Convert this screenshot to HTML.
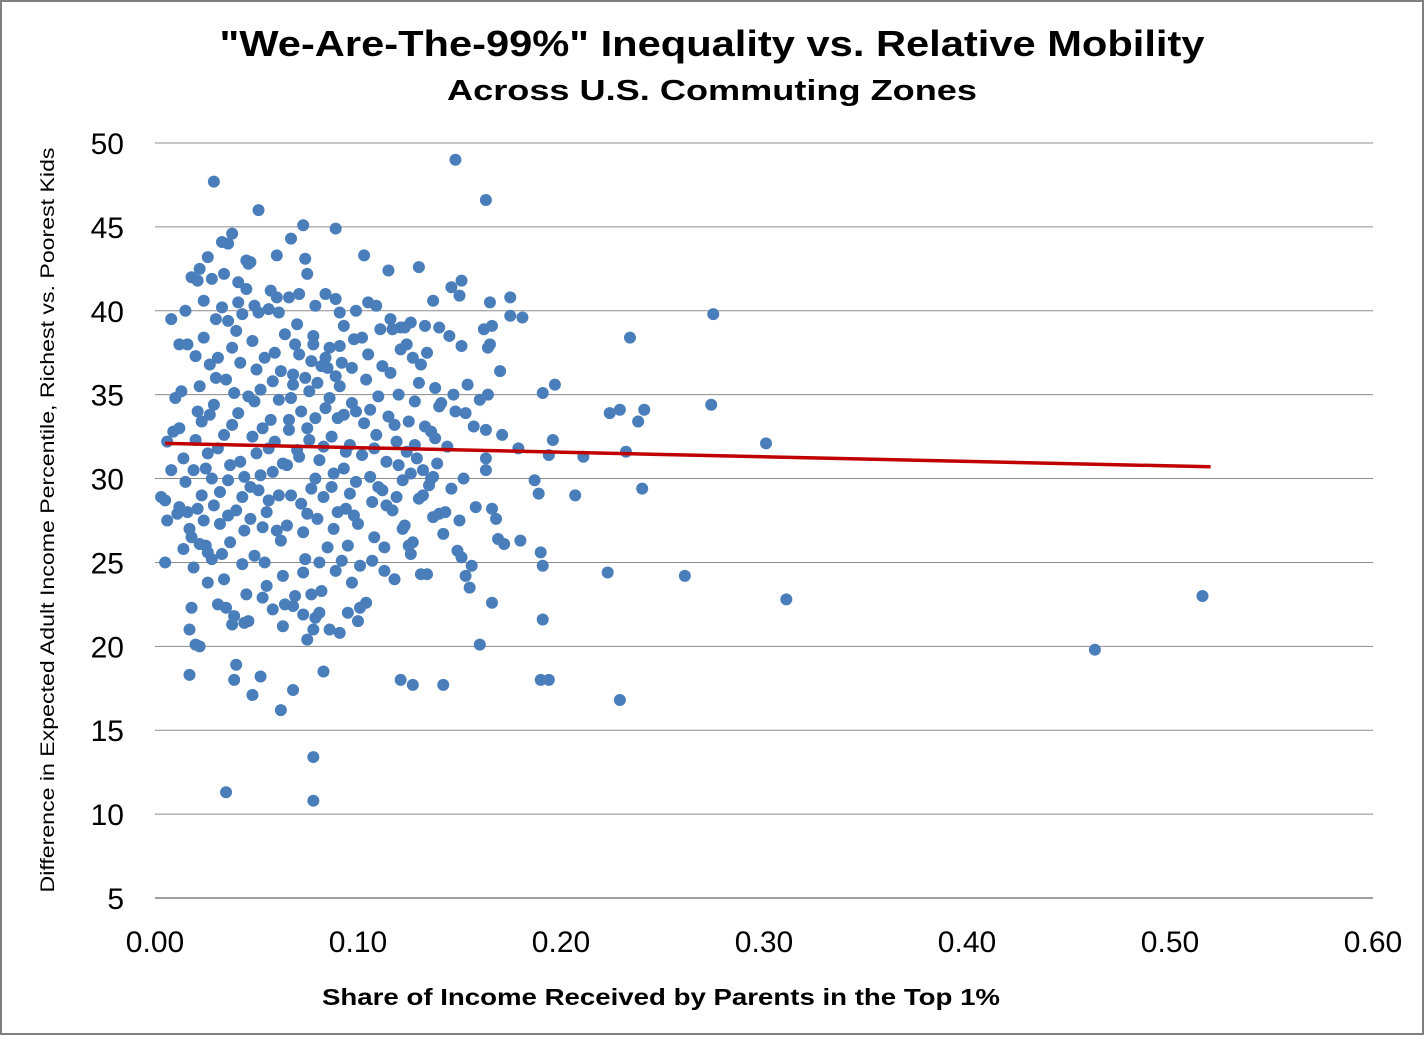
<!DOCTYPE html>
<html>
<head>
<meta charset="utf-8">
<style>
  html,body{margin:0;padding:0;background:#fff;}
  body{width:1424px;height:1035px;overflow:hidden;font-family:"Liberation Sans",sans-serif;}
  svg text{font-family:"Liberation Sans",sans-serif;}
</style>
</head>
<body>
<svg id="chart" width="1424" height="1035" viewBox="0 0 1424 1035" xmlns="http://www.w3.org/2000/svg">
  <rect x="1" y="1" width="1422" height="1033" fill="#fff" stroke="#7f7f7f" stroke-width="2"/>
  <text x="712" y="56" text-anchor="middle" font-size="36" font-weight="bold" fill="#000" textLength="985" lengthAdjust="spacingAndGlyphs">"We-Are-The-99%" Inequality vs. Relative Mobility</text>
  <text x="712" y="100" text-anchor="middle" font-size="29" font-weight="bold" fill="#000" textLength="530" lengthAdjust="spacingAndGlyphs">Across U.S. Commuting Zones</text>
  <g id="grid"></g>
  <g id="yticks"></g>
  <g id="xticks"></g>
  <g id="dots"></g>
  <g id="trend"></g>
  <text x="661" y="1005" text-anchor="middle" font-size="23" font-weight="bold" fill="#000" textLength="678" lengthAdjust="spacingAndGlyphs">Share of Income Received by Parents in the Top 1%</text>
  <text transform="translate(54,520) rotate(-90)" text-anchor="middle" font-size="19" fill="#000" textLength="745" lengthAdjust="spacingAndGlyphs">Difference in Expected Adult Income Percentile, Richest vs. Poorest Kids</text>
</svg>
<script>
const xTicks = [0, 0.1, 0.2, 0.3, 0.4, 0.5, 0.6];
const xTickLabels = ["0.00","0.10","0.20","0.30","0.40","0.50","0.60"];
const yTicks = [5,10,15,20,25,30,35,40,45,50];
const trendX = [0.005, 0.52];
const trendY = [32.1, 30.7];
const points = [
[.029,47.7],[.051,46.0],[.073,45.1],[.089,44.9],[.148,49.0],[.163,46.6],[.275,39.8],[.234,38.4],[.516,23.0],[.463,19.8],
[.311,22.8],[.261,24.2],[.301,32.1],[.274,34.4],[.241,34.1],[.229,34.1],[.224,33.9],[.238,33.4],[.232,31.6],[.240,29.4],
[.223,24.4],[.229,16.8],[.207,29.0],[.211,31.3],[.197,35.6],[.196,32.3],[.191,35.1],[.194,31.4],[.187,29.9],[.189,29.1],
[.190,25.6],[.191,24.8],[.191,21.6],[.194,18.0],[.190,18.0],[.181,39.6],[.175,39.7],[.175,40.8],[.165,40.5],[.160,20.1],
[.155,23.5],[.153,24.2],[.151,25.3],[.166,28.2],[.168,27.6],[.166,22.6],[.180,26.3],[.171,32.6],[.179,31.8],[.169,26.4],
[.163,31.2],[.163,30.5],[.164,35.0],[.163,32.9],[.165,38.0],[.142,17.7],[.121,18.0],[.127,17.7],[.083,18.5],[.075,20.4],
[.078,21.0],[.079,21.7],[.068,17.4],[.062,16.2],[.048,17.1],[.039,18.0],[.040,18.9],[.052,18.2],[.017,18.3],[.020,20.1],
[.035,11.3],[.078,13.4],[.078,10.8],[.005,25.0],[.003,28.9],[.006,32.2],[.008,39.5],[.012,38.0],[.022,42.5],[.021,41.8],
[.026,43.2],[.038,44.6],[.036,44.0],[.033,44.1],[.045,43.0],[.047,42.9],[.060,43.3],[.067,44.3],[.074,43.1],[.091,39.9],
[.103,43.3],[.115,42.4],[.130,42.6],[.151,41.8],[.146,41.4],[.137,40.6],[.150,40.9],[.140,39.0],[.126,39.3],[.121,39.0],
[.010,34.8],[.012,33.0],[.014,31.2],[.015,29.8],[.016,28.0],[.017,27.0],[.018,26.5],[.019,30.5],[.020,32.3],[.021,34.0],
[.022,35.5],[.023,29.0],[.024,27.5],[.025,26.0],[.026,31.5],[.027,33.8],[.028,30.0],[.029,28.4],[.030,36.0],[.031,37.2],
[.032,29.2],[.033,25.5],[.034,24.0],[.035,22.3],[.036,27.8],[.037,30.8],[.038,33.2],[.039,35.1],[.040,38.8],[.041,40.5],
[.042,31.0],[.043,28.9],[.044,26.9],[.045,23.1],[.046,21.5],[.047,29.5],[.048,32.5],[.049,34.6],[.050,36.5],[.051,39.9],
[.052,30.2],[.053,27.1],[.054,25.0],[.055,28.0],[.056,31.8],[.057,33.5],[.058,35.8],[.059,37.5],[.060,40.8],[.061,29.0],
[.062,26.3],[.063,24.2],[.064,22.5],[.065,30.8],[.066,32.9],[.067,34.8],[.068,36.2],[.069,38.0],[.070,39.2],[.071,31.3],
[.072,28.5],[.073,26.8],[.074,25.2],[.075,33.0],[.076,35.2],[.077,37.0],[.078,38.5],[.079,30.0],[.080,27.6],[.081,25.0],
[.082,23.3],[.083,31.9],[.084,34.2],[.085,36.6],[.086,37.8],[.087,29.5],[.088,27.0],[.089,24.5],[.090,33.6],[.091,35.5],
[.092,36.9],[.093,30.6],[.094,28.2],[.095,26.0],[.096,32.0],[.097,34.5],[.098,38.3],[.099,29.8],[.100,27.3],[.101,24.8],
[.102,31.4],[.103,33.3],[.104,35.9],[.105,37.4],[.106,30.1],[.107,28.6],[.108,26.5],[.109,32.6],[.110,34.9],[.111,38.9],
[.112,29.3],[.113,25.9],[.114,31.0],[.115,33.7],[.116,36.3],[.117,28.1],[.118,24.0],[.119,32.2],[.120,35.0],[.121,37.7],
[.122,29.9],[.123,27.2],[.124,31.6],[.125,33.4],[.126,30.3],[.127,26.2],[.128,34.6],[.129,31.2],[.130,28.8],[.131,36.8],
[.132,30.5],[.133,33.1],[.134,24.3],[.135,29.6],[.136,32.8],[.137,27.7],[.138,35.4],[.139,30.9],[.140,34.3],[.142,26.7],
[.144,31.9],[.146,29.4],[.148,34.0],[.150,27.5],[.152,30.0],[.153,33.9],[.156,24.8],[.158,28.3],
[.005,28.7],[.006,27.5],[.008,30.5],[.009,32.8],[.011,27.9],[.013,35.2],[.014,25.8],[.016,38.0],[.018,22.3],[.019,24.7],
[.020,37.3],[.021,28.2],[.022,26.1],[.023,33.4],[.024,38.4],[.025,30.6],[.026,23.8],[.027,36.8],[.028,25.2],[.029,34.4],
[.030,39.5],[.031,31.8],[.032,27.3],[.033,40.2],[.034,32.6],[.035,35.9],[.036,29.9],[.037,26.2],[.038,37.8],[.039,21.8],
[.040,28.1],[.041,33.9],[.042,36.9],[.043,24.9],[.044,30.1],[.045,41.3],[.046,34.9],[.047,27.6],[.048,38.2],[.049,25.4],
[.050,31.5],[.051,29.3],[.052,35.3],[.053,33.0],[.054,37.2],[.055,23.6],[.056,28.7],[.057,41.2],[.058,30.4],[.059,32.2],
[.060,26.9],[.061,34.7],[.062,36.4],[.063,30.9],[.064,38.6],[.065,27.2],[.066,33.5],[.067,29.0],[.068,35.6],[.069,23.0],
[.070,31.7],[.071,37.4],[.072,34.0],[.073,24.4],[.074,36.0],[.075,27.9],[.076,32.3],[.077,29.4],[.078,38.0],[.079,33.6],
[.080,35.7],[.081,31.1],[.082,36.7],[.083,28.9],[.084,37.2],[.085,25.9],[.086,34.8],[.087,32.5],[.088,30.3],[.089,36.1],
[.090,28.0],[.091,37.9],[.092,25.1],[.093,33.8],[.094,31.6],[.095,22.0],[.096,29.1],[.097,36.6],[.098,27.8],[.099,34.0],
[.100,21.5],[.102,38.4],[.104,22.6],[.106,34.1],[.108,31.8],[.110,29.5],[.112,36.7],[.114,28.4],[.116,39.5],[.118,33.2],
[.120,30.8],[.122,27.0],[.124,38.0],[.126,25.5],[.128,32.0],[.130,35.7],[.132,29.0],[.134,37.5],[.136,30.0],[.138,32.4],
[.140,27.9],
[.012,28.3],[.015,40.0],[.017,21.0],[.018,42.0],[.022,20.0],[.024,40.6],[.026,25.6],[.028,41.9],[.031,22.5],[.034,42.2],
[.036,39.4],[.038,21.3],[.041,41.7],[.043,39.8],[.044,21.4],[.046,42.8],[.049,40.3],[.053,22.9],[.056,40.1],[.058,22.2],
[.061,39.9],[.063,21.2],[.066,40.8],[.068,22.4],[.071,41.0],[.073,21.9],[.075,42.2],[.077,23.1],[.079,40.3],[.081,22.0],
[.084,41.0],[.086,21.0],[.089,40.7],[.091,20.8],[.093,39.1],[.097,23.8],[.099,40.0],[.101,22.3],[.105,40.5],[.107,25.1],
[.109,40.3],[.113,24.5],[.117,38.9],[.119,28.9],[.123,39.0],[.125,26.0],[.127,37.2],[.131,24.3],[.133,39.1],[.137,30.1],
[.141,34.5],[.143,28.0],[.145,38.5],[.147,35.0],[.149,25.7],[.151,37.9],[.154,35.6],[.157,33.1],[.160,34.7],[.162,38.9],
[.164,37.8],[.166,39.1],[.170,36.4],[.172,26.1]
];

const NS = "http://www.w3.org/2000/svg";
const plotLeft = 155, plotRight = 1373, plotTop = 143, plotBottom = 898;
const xMin = 0, xMax = 0.6, yMin = 5, yMax = 50;
function xScale(v){ return plotLeft + (v - xMin) / (xMax - xMin) * (plotRight - plotLeft); }
function yScale(v){ return plotBottom - (v - yMin) / (yMax - yMin) * (plotBottom - plotTop); }
function mk(tag, attrs){ const e = document.createElementNS(NS, tag); for (const k in attrs) e.setAttribute(k, attrs[k]); return e; }

const grid = document.getElementById('grid');
const yg = document.getElementById('yticks');
yTicks.forEach(t => {
  const y = yScale(t);
  const ln = mk('line', {x1: plotLeft, x2: plotRight, y1: y, y2: y, stroke: t === yMin ? '#7f7f7f' : '#8c8c8c', 'stroke-width': t === yMin ? 1.5 : 1});
  
  
  grid.appendChild(ln);
  const tx = mk('text', {x: 124, y: y + 11, 'text-anchor': 'end', 'font-size': 30, fill: '#000'});
  tx.textContent = String(t);
  
  
  yg.appendChild(tx);
});

const xg = document.getElementById('xticks');
xTicks.forEach((t, i) => {
  const x = xScale(t);
  const tx = mk('text', {x: x, y: 952, 'text-anchor': 'middle', 'font-size': 30, fill: '#000'});
  tx.textContent = xTickLabels[i];
  
  
  xg.appendChild(tx);
});

const dots = document.getElementById('dots');
points.forEach(p => {
  const c = mk('circle', {cx: xScale(p[0]), cy: yScale(p[1]), r: 6, fill: '#4a7ebb'});
  
  
  dots.appendChild(c);
});

const trend = document.getElementById('trend');
const tl = mk('line', {x1: xScale(trendX[0]), y1: yScale(trendY[0]), x2: xScale(trendX[1]), y2: yScale(trendY[1]), stroke: '#c00000', 'stroke-width': 3.5});


trend.appendChild(tl);
</script>
</body>
</html>
